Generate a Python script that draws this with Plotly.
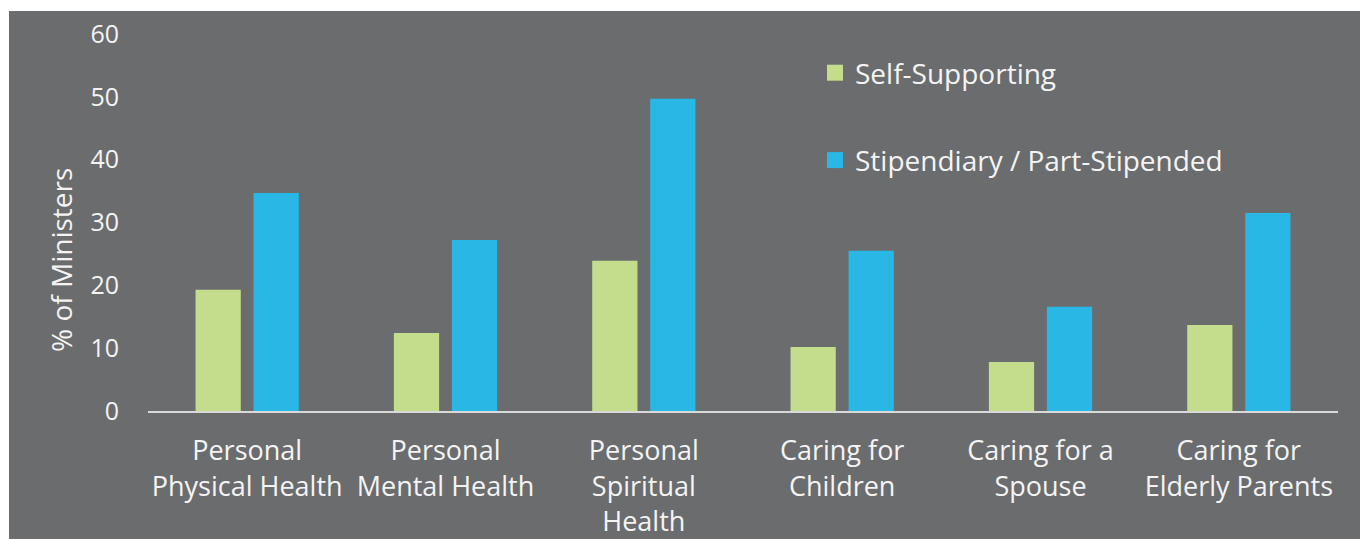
import plotly.graph_objects as go

categories = [
    "Personal<br>Physical Health",
    "Personal<br>Mental Health",
    "Personal<br>Spiritual<br>Health",
    "Caring for<br>Children",
    "Caring for a<br>Spouse",
    "Caring for<br>Elderly Parents",
]
self_supporting = [19.3, 12.4, 23.9, 10.2, 7.8, 13.7]
stipendiary = [34.7, 27.2, 49.7, 25.5, 16.6, 31.5]
series_names = ["Self-Supporting", "Stipendiary / Part-Stipended"]
y_ticks = [0, 10, 20, 30, 40, 50, 60]
y_title = "% of Ministers"

BG = "#6b6c6e"
GREEN = "#c4dd8c"
BLUE = "#29b7e5"
TXT = "#f4f4f4"
FONT = "Open Sans"

# page body adds an 8px offset; figure coordinates below are page minus 8
W, H = 1368, 539
L, R, T, B = 140, 38, 26, 136
pw, ph = W - L - R, H - T - B

fig = go.Figure()
fig.add_trace(go.Bar(x=categories, y=self_supporting, name=series_names[0],
                     marker=dict(color=GREEN, line=dict(width=0)), showlegend=False))
fig.add_trace(go.Bar(x=categories, y=stipendiary, name=series_names[1],
                     marker=dict(color=BLUE, line=dict(width=0)), showlegend=False))
# legend entries with larger square swatches
for name, col, grp in [(series_names[0], GREEN, "a"), (series_names[1], BLUE, "b")]:
    fig.add_trace(go.Scatter(x=[None], y=[None], mode="markers", name=name,
                             legendgroup=grp,
                             marker=dict(symbol="square", size=16, color=col,
                                         line=dict(width=0))))

# gray background panel with thin white border at left/top
fig.add_shape(type="rect", xref="paper", yref="paper", layer="below",
              x0=(1 - L) / pw, x1=1.2, y0=-0.6, y1=(H - B - 3) / ph,
              fillcolor=BG, line=dict(width=0))

# y-axis title (placed lower than axis centre, as in the reference)
fig.add_annotation(text=y_title, xref="paper", yref="paper",
                   x=(53 - L) / pw, y=(H - B - 252) / ph, textangle=-90,
                   showarrow=False, xanchor="center", yanchor="middle",
                   font=dict(size=28, color=TXT, family=FONT))

fig.update_layout(
    width=W, height=H,
    margin=dict(l=L, r=R, t=T, b=B),
    paper_bgcolor="white",
    plot_bgcolor=BG,
    barmode="group",
    bargap=0.415,
    bargroupgap=0.22,
    font=dict(family=FONT, color=TXT, size=26),
    legend=dict(x=(807 - L) / pw, y=(H - B - 40) / ph, xanchor="left", yanchor="top",
                bgcolor="rgba(0,0,0,0)", font=dict(size=28, color=TXT),
                tracegroupgap=48, traceorder="grouped"),
    xaxis=dict(showline=True, linecolor="#d9d9d9", linewidth=2, showgrid=False,
               ticks="", tickfont=dict(size=27, color=TXT), ticklabelstandoff=15,
               automargin=False),
    yaxis=dict(range=[0, 60], tickvals=y_ticks, showgrid=False, zeroline=False,
               showline=False, ticks="", tickfont=dict(size=25, color=TXT),
               ticklabelstandoff=28, automargin=False),
)

fig.write_html("out.html")
